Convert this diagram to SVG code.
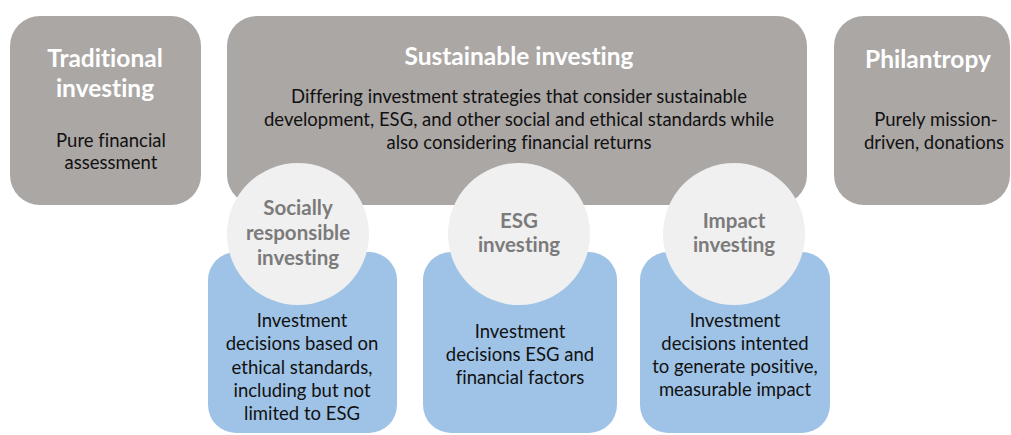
<svg xmlns="http://www.w3.org/2000/svg" width="1011" height="435" viewBox="0 0 1011 435">
  <style>
    .panel { fill: #aba7a5; }
    .card { fill: #9fc3e6; }
    .badge { fill: #f0f0f0; }
    text { font-family: Lato, "Open Sans", "Liberation Sans", sans-serif; text-anchor: middle; font-variant-ligatures: none; }
    .title { font-size: 24.5px; font-weight: 700; fill: #ffffff; }
    .body { font-size: 18.5px; fill: #111111; }
    .badge-label { font-size: 20.5px; font-weight: 700; fill: #7b7b7b; }
  </style>
  <rect width="1011" height="435" fill="#ffffff"/>

  <!-- Top row: spectrum of investment approaches -->
  <g id="traditional">
    <rect class="panel" x="10" y="16" width="191" height="189" rx="30"/>
    <text class="title" x="105" y="67">Traditional</text>
    <text class="title" x="105" y="97">investing</text>
    <text class="body" x="111" y="147">Pure financial</text>
    <text class="body" x="111" y="169">assessment</text>
  </g>

  <g id="sustainable">
    <rect class="panel" x="227" y="16" width="580" height="189" rx="30"/>
    <text class="title" x="519" y="65">Sustainable investing</text>
    <text class="body" x="519" y="103">Differing investment strategies that consider sustainable</text>
    <text class="body" x="519" y="126">development, ESG, and other social and ethical standards while</text>
    <text class="body" x="519" y="149">also considering financial returns</text>
  </g>

  <g id="philanthropy">
    <rect class="panel" x="834" y="16" width="176" height="189" rx="30"/>
    <text class="title" x="928" y="68">Philantropy</text>
    <text class="body" x="936" y="126">Purely mission-</text>
    <text class="body" x="934" y="149">driven, donations</text>
  </g>

  <!-- Sustainable investing sub-strategies -->
  <g id="sri">
    <rect class="card" x="208" y="252" width="189" height="181" rx="28"/>
    <circle class="badge" cx="298" cy="234" r="71"/>
    <text class="badge-label" x="298" y="215">Socially</text>
    <text class="badge-label" x="298" y="240">responsible</text>
    <text class="badge-label" x="298" y="265">investing</text>
    <text class="body" x="302" y="327">Investment</text>
    <text class="body" x="302" y="350">decisions based on</text>
    <text class="body" x="302" y="374">ethical standards,</text>
    <text class="body" x="302" y="397">including but not</text>
    <text class="body" x="302" y="420">limited to ESG</text>
  </g>

  <g id="esg">
    <rect class="card" x="423" y="252" width="194" height="181" rx="28"/>
    <circle class="badge" cx="519" cy="234" r="71"/>
    <text class="badge-label" x="519" y="228">ESG</text>
    <text class="badge-label" x="519" y="252">investing</text>
    <text class="body" x="520" y="338">Investment</text>
    <text class="body" x="520" y="361">decisions ESG and</text>
    <text class="body" x="520" y="384">financial factors</text>
  </g>

  <g id="impact">
    <rect class="card" x="640" y="252" width="190" height="181" rx="28"/>
    <circle class="badge" cx="734" cy="234" r="71"/>
    <text class="badge-label" x="734" y="228">Impact</text>
    <text class="badge-label" x="734" y="252">investing</text>
    <text class="body" x="735" y="327">Investment</text>
    <text class="body" x="735" y="350">decisions intented</text>
    <text class="body" x="735" y="373">to generate positive,</text>
    <text class="body" x="735" y="396">measurable impact</text>
  </g>
</svg>
